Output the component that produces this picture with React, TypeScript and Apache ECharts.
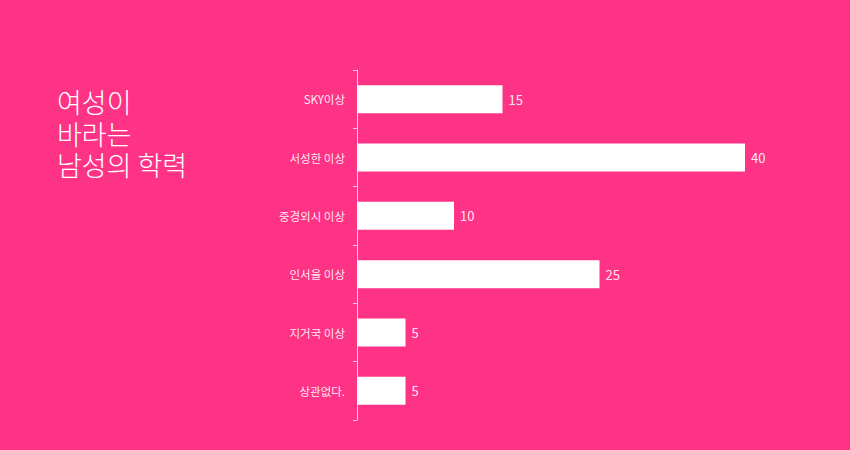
import { useEffect, useRef } from 'react';
import * as echarts from 'echarts';

const categories = ['SKY이상', '서성한 이상', '중경외시 이상', '인서울 이상', '지거국 이상', '상관없다.'];
const values = [15, 40, 10, 25, 5, 5];
const titleLines = ['여성이', '바라는', '남성의 학력'];

const font = '"Noto Sans CJK KR", "Noto Sans", sans-serif';

export default function App() {
  const ref = useRef<HTMLDivElement>(null);

  useEffect(() => {
    document.body.style.margin = '0';
    if (!ref.current) return;
    const chart = echarts.init(ref.current, undefined, { renderer: 'svg' });
    chart.setOption({
      animation: false,
      backgroundColor: '#ff3385',
      textStyle: { fontFamily: font },
      // title lines as separate texts so their boxes don't overlap
      graphic: titleLines.map((line, i) => ({
        type: 'text',
        left: 57,
        top: 88 + i * 31.5,
        style: {
          text: line,
          fill: '#fff',
          font: `300 27px ${font}`
        }
      })),
      grid: { left: 357, right: 105, top: 70, bottom: 30 },
      xAxis: {
        type: 'value',
        min: 0,
        max: 40,
        show: false
      },
      yAxis: {
        type: 'category',
        data: categories,
        inverse: true,
        axisLine: { show: true, lineStyle: { color: 'rgba(255,255,255,0.75)', width: 1 } },
        axisTick: { show: true, length: 4, lineStyle: { color: 'rgba(255,255,255,0.75)' } },
        axisLabel: { color: 'rgba(255,255,255,0.9)', fontSize: 11.5, margin: 12 }
      },
      series: [
        {
          type: 'bar',
          data: values,
          barWidth: 28,
          itemStyle: { color: '#fff' },
          label: {
            show: true,
            position: 'right',
            distance: 6,
            color: 'rgba(255,255,255,0.9)',
            fontSize: 13
          }
        }
      ]
    });
    return () => {
      chart.dispose();
    };
  }, []);

  return <div ref={ref} style={{ width: 850, height: 450 }} />;
}
